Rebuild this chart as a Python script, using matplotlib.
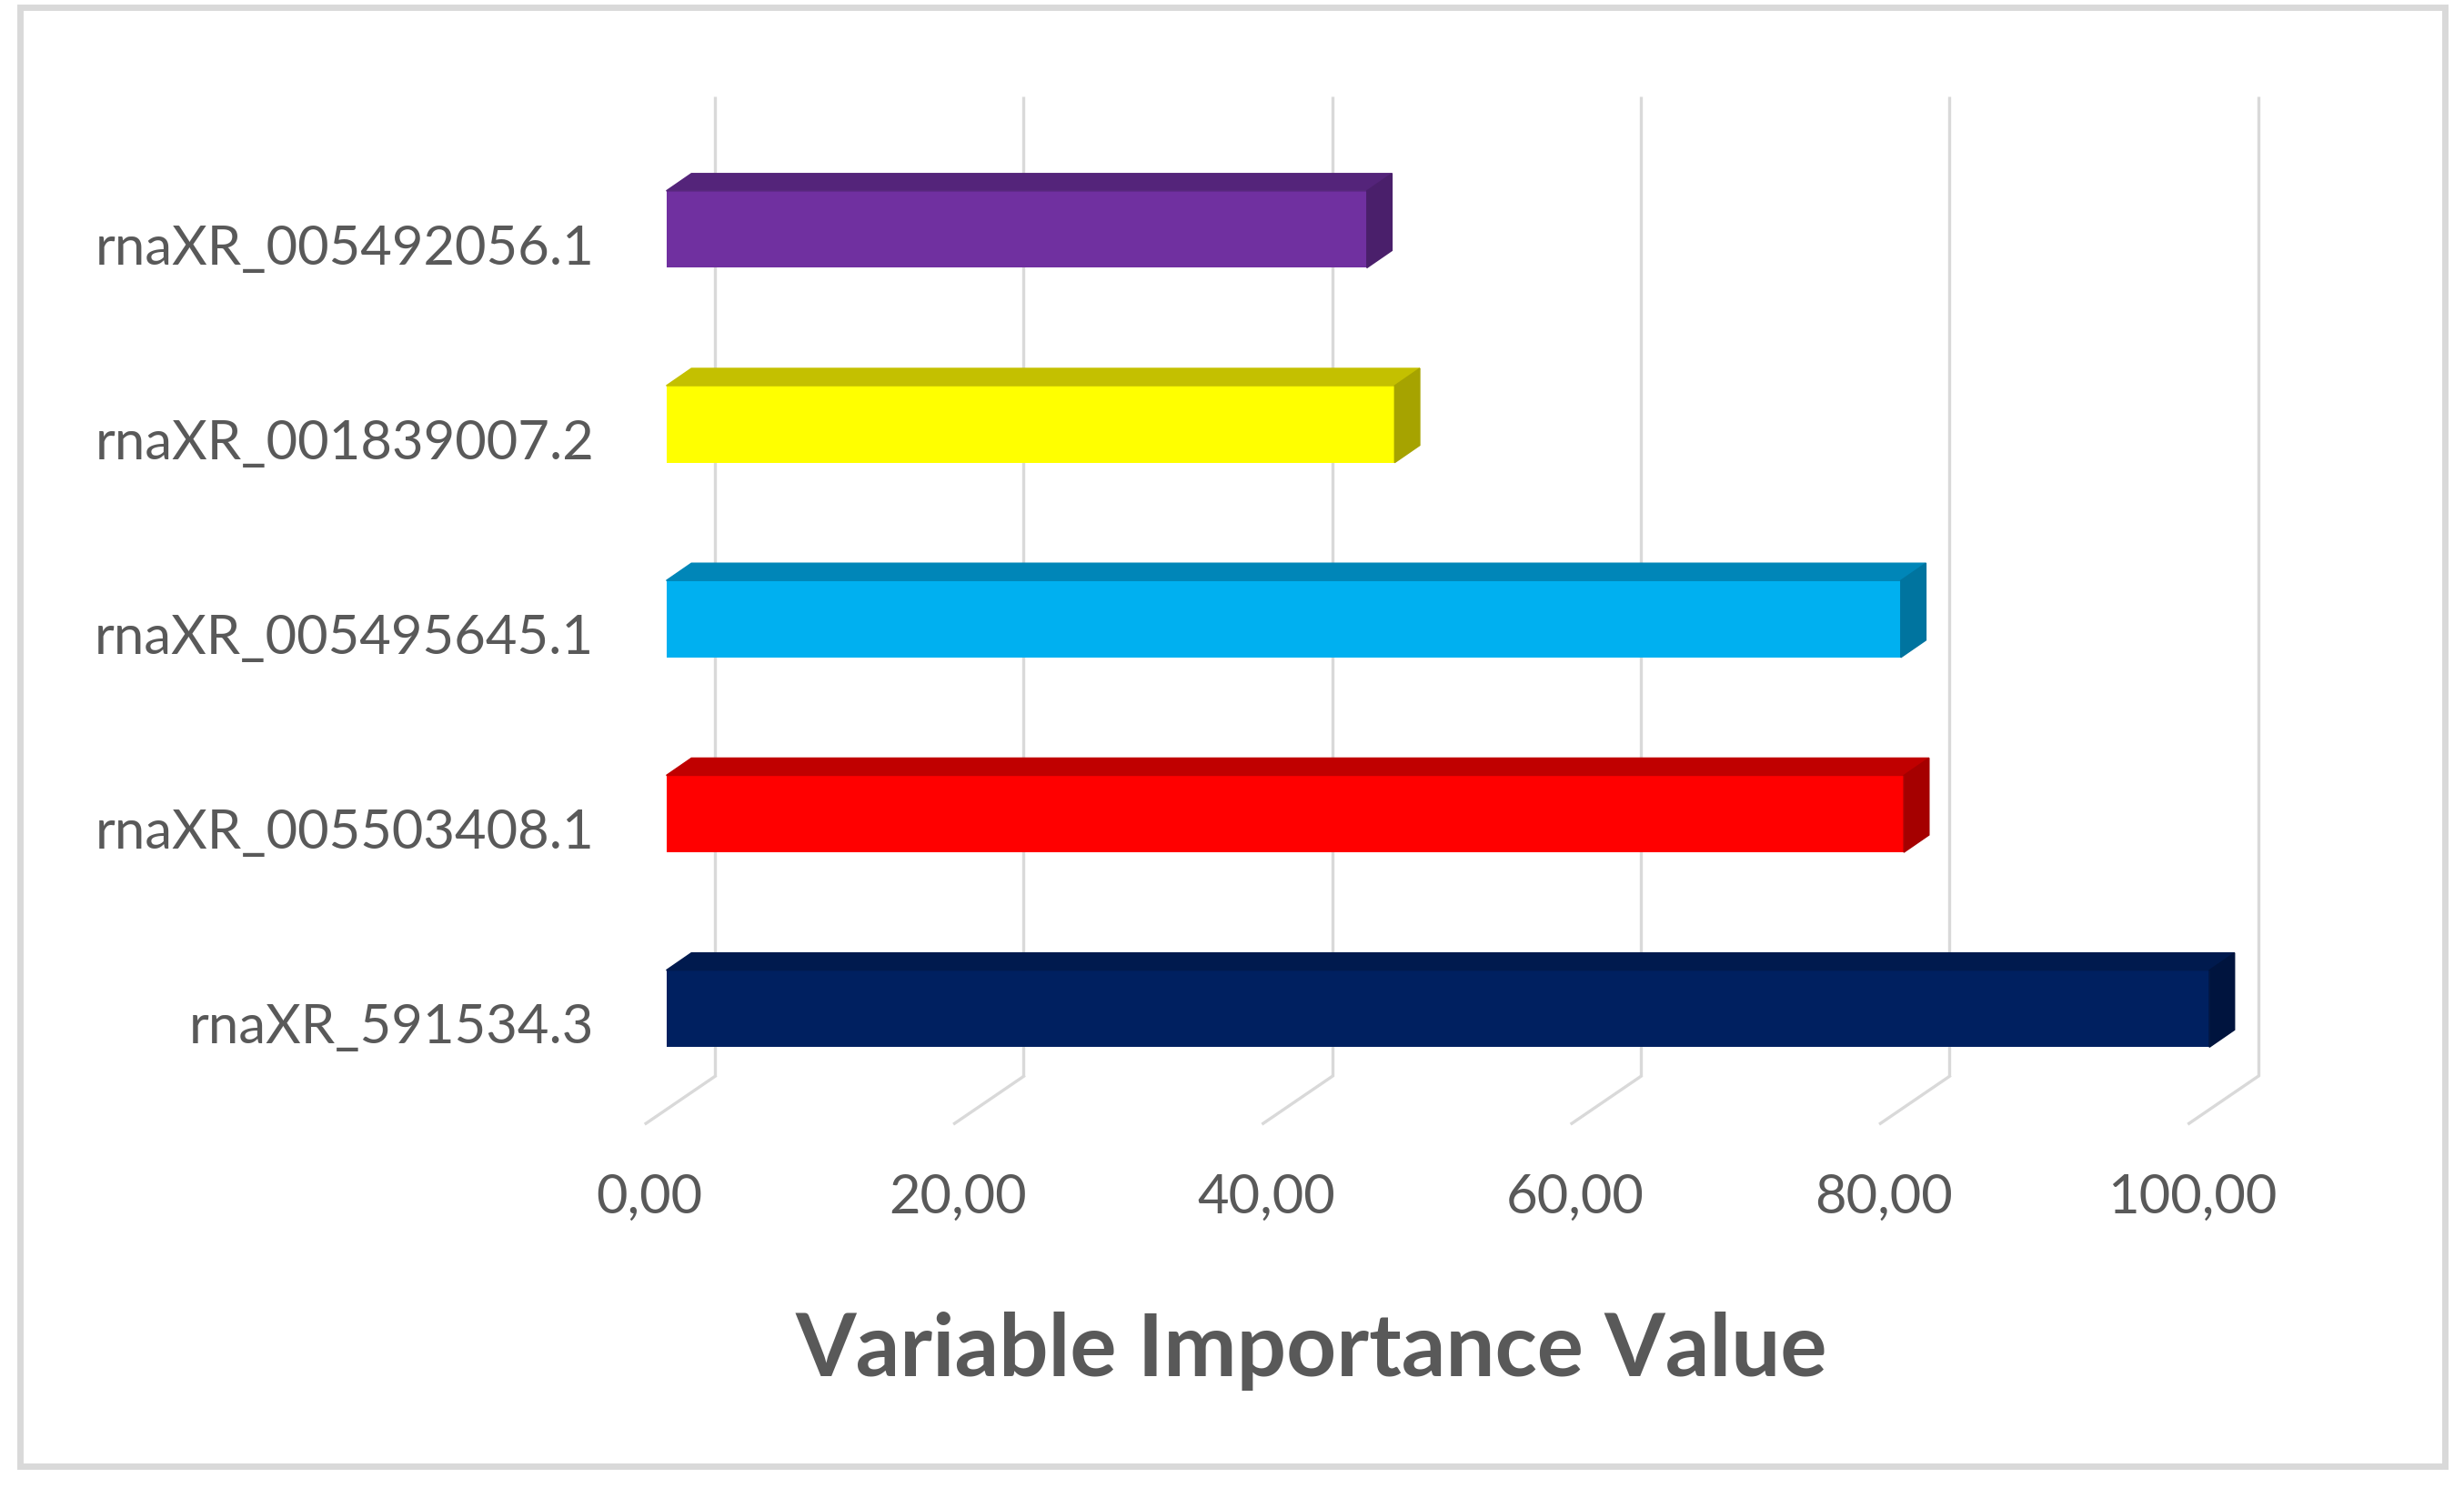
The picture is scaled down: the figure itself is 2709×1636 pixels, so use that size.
import matplotlib.pyplot as plt
from matplotlib.patches import Polygon, Rectangle

# data (bottom to top)
genes = ["rnaXR_591534.3", "rnaXR_005503408.1", "rnaXR_005495645.1",
         "rnaXR_001839007.2", "rnaXR_005492056.1"]
values = [100.0, 80.2, 80.0, 47.2, 45.4]
ticks = [0, 20, 40, 60, 80, 100]
tick_labels = ["0,00", "20,00", "40,00", "60,00", "80,00", "100,00"]

front_cols = ["#002060", "#FF0000", "#00B0F0", "#FFFF00", "#7030A0"]
top_cols = ["#001A4E", "#C00000", "#0086B8", "#C4C000", "#54247A"]
side_cols = ["#00143E", "#A50000", "#00749F", "#A6A300", "#4A1F6B"]

grey = "#595959"
gridc = "#D9D9D9"

# 3d offsets (data units)
bdx, bdy = 1.63, 0.089      # bar depth
back_dx = 3.16              # back wall relative to bar front
front_dx = -1.32
floor_back = -0.347
floor_front = -0.589
wall_top = 4.68
h = 0.1975

fig = plt.figure(figsize=(27.09, 16.36), dpi=100)
ax = fig.add_axes([0, 0, 1, 1])
ax.set_xlim(-43.18, 116.5)
ax.set_ylim(-2.46, 5.177)
ax.axis("off")

# border
fig.patches.append(Rectangle((22 / 2709, 1 - 1612 / 1636), (2688 - 22) / 2709, (1612 - 8) / 1636,
                             transform=fig.transFigure, fill=False, ec=gridc, lw=5))

# gridlines: back wall + floor diagonal
for t in ticks:
    ax.plot([t + back_dx, t + back_dx], [floor_back, wall_top], color=gridc, lw=2.4, zorder=1,
            solid_capstyle="butt")
    ax.plot([t + back_dx, t + front_dx], [floor_back, floor_front], color=gridc, lw=2.4, zorder=1)

# bars
for i, v in enumerate(values):
    ax.barh(i, v, height=2 * h, left=0, color=front_cols[i], zorder=3)
    top = i + h
    bot = i - h
    ax.add_patch(Polygon([(0, top), (v, top), (v + bdx, top + bdy), (bdx, top + bdy)],
                         closed=True, color=top_cols[i], zorder=3))
    ax.add_patch(Polygon([(v, bot), (v, top), (v + bdx, top + bdy), (v + bdx, bot + bdy)],
                         closed=True, color=side_cols[i], zorder=3))

# labels
for i, g in enumerate(genes):
    ax.text(-4.68, i - 0.1, g, ha="right", va="center", fontsize=43, color=grey, family="Lato")
for t, lab in zip(ticks, tick_labels):
    ax.text(t - 1.12, -0.968, lab, ha="center", va="center", fontsize=43, color=grey, family="Lato")

ax.text(41.8, -1.758, "Variable Importance Value", ha="center", va="center", fontsize=69,
        fontweight="bold", color=grey, family="Lato")

fig.savefig("out.png", dpi=100)
